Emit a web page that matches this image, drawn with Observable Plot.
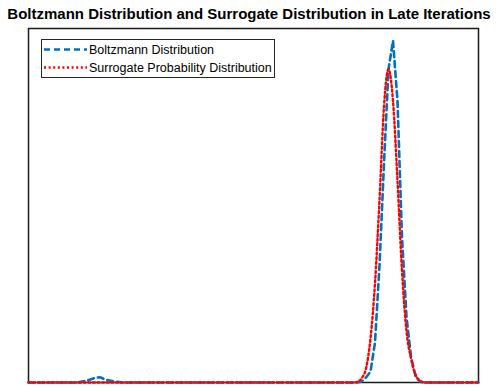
<!DOCTYPE html>
<html>
<head>
<meta charset="utf-8">
<script src="https://cdn.jsdelivr.net/npm/d3@7"></script>
<script src="https://cdn.jsdelivr.net/npm/@observablehq/plot@0.6"></script>
<style>
  html, body { margin: 0; padding: 0; background: #fff; }
  #wrap { position: relative; width: 498px; height: 386px; font-family: "Liberation Sans", Arial, sans-serif; }
  #title { height: 26px; line-height: 28px; width: 498px; text-align: center; font-weight: bold; font-size: 15px; color: #000; white-space: nowrap; }
  #legend { position: absolute; left: 41px; top: 39px; width: 234px; height: 39px; box-sizing: border-box; border: 1px solid #262626; background: #fff; }
  #legend svg { display: block; }
</style>
</head>
<body>
<div id="wrap">
  <div id="title">Boltzmann Distribution and Surrogate Distribution in Late Iterations</div>
  <div id="chart"></div>
  <div id="legend"></div>
</div>
<script>
// Series (x: state index, y: probability)
const boltzmannX = [0, 11, 13, 15, 16, 17, 19, 21, 73, 74, 75, 76, 77, 78, 79, 80, 81, 82, 83, 84, 85, 86, 87, 88, 100];
const boltzmannY = [0, 0, 0.0011, 0.0028, 0.0029, 0.0017, 0.0006, 0, 0, 0.0006, 0.0028, 0.0062, 0.0226, 0.066, 0.124, 0.177, 0.193, 0.159, 0.082, 0.037, 0.0147, 0.0034, 0.0005, 0, 0];
const surrogateX = [0, 72, 73, 74, 75, 76, 77, 78, 79, 80, 81, 82, 83, 84, 85, 86, 87, 88, 100];
const surrogateY = [0, 0, 0.0003, 0.0023, 0.0079, 0.0249, 0.056, 0.103, 0.156, 0.177, 0.159, 0.114, 0.063, 0.029, 0.0136, 0.0045, 0.001, 0, 0];
const seriesNames = ["Boltzmann Distribution", "Surrogate Probability Distribution"];
const seriesColors = ["#0072BD", "#FF0000"];
const seriesDash = ["6,4", "2,2.6"];
const seriesWidth = [2.6, 2.4];

const boltzmann = boltzmannX.map((x, i) => ({x, y: boltzmannY[i]}));
const surrogate = surrogateX.map((x, i) => ({x, y: surrogateY[i]}));

const chart = Plot.plot({
  width: 498,
  height: 360,
  marginLeft: 28,
  marginRight: 20,
  marginTop: 2,
  marginBottom: 4,
  x: {domain: [0, 100], axis: null},
  y: {domain: [0, 0.2], axis: null},
  marks: [
    Plot.frame({stroke: "#1a1a1a", strokeWidth: 1.5}),
    Plot.line(boltzmann, {x: "x", y: "y", stroke: seriesColors[0], strokeWidth: seriesWidth[0], strokeDasharray: seriesDash[0]}),
    Plot.line(surrogate, {x: "x", y: "y", stroke: seriesColors[1], strokeWidth: seriesWidth[1], strokeDasharray: seriesDash[1], curve: "monotone-x"})
  ]
});
document.getElementById("chart").appendChild(chart);

// Legend
const lg = d3.select("#legend").append("svg").attr("width", 232).attr("height", 37);
seriesNames.forEach((name, i) => {
  const cy = 9.5 + i * 18;
  lg.append("line").attr("x1", 2).attr("x2", 45).attr("y1", cy).attr("y2", cy)
    .attr("stroke", seriesColors[i]).attr("stroke-width", seriesWidth[i]).attr("stroke-dasharray", seriesDash[i]);
  lg.append("text").attr("x", 47).attr("y", cy).attr("dy", "0.35em")
    .attr("font-family", "Liberation Sans, Arial, sans-serif").attr("font-size", 12.5).attr("fill", "#000")
    .text(name);
});
</script>
</body>
</html>
